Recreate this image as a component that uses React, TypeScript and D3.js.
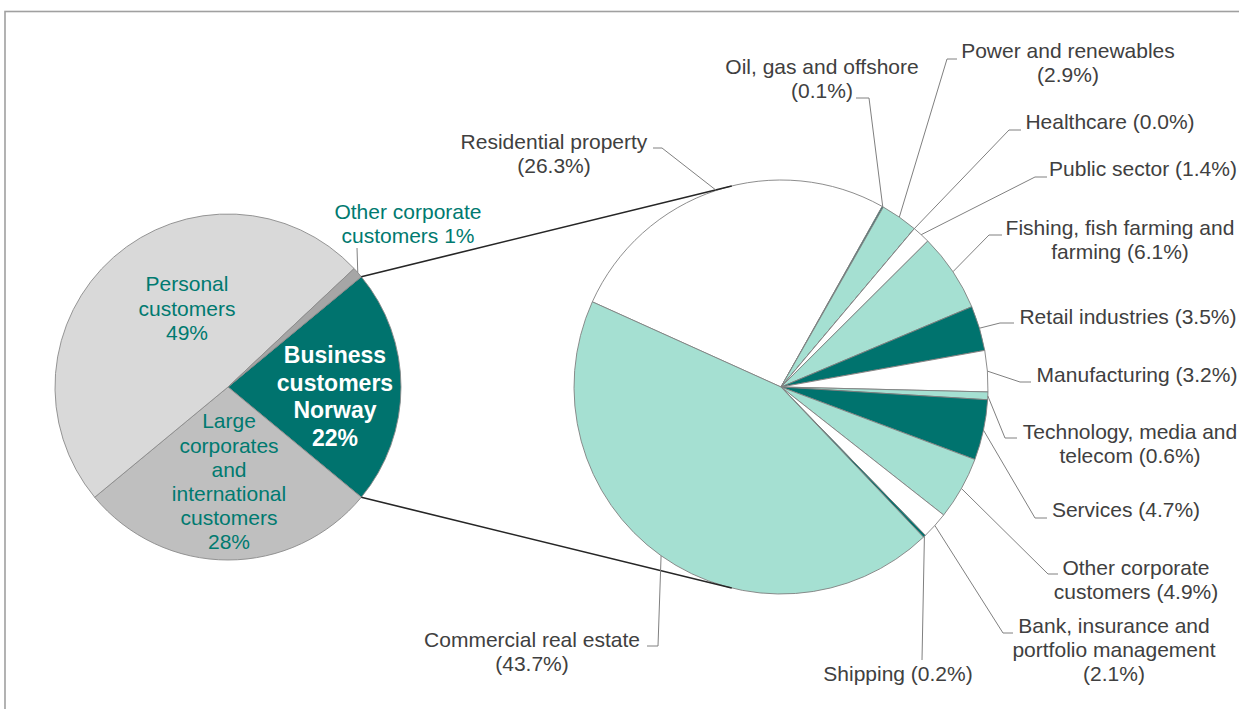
import React from "react";
import * as d3 from "d3";

// ---------- data ----------
const mainCategories = [
  "Business customers Norway",
  "Large corporates and international customers",
  "Personal customers",
  "Other corporate customers",
];
const mainValues = [22, 28, 49, 1];
const mainColors = ["#00736e", "#bfbfbf", "#d9d9d9", "#a6a6a6"];

const sectorCategories = [
  "Residential property",
  "Oil, gas and offshore",
  "Power and renewables",
  "Healthcare",
  "Public sector",
  "Fishing, fish farming and farming",
  "Retail industries",
  "Manufacturing",
  "Technology, media and telecom",
  "Services",
  "Other corporate customers",
  "Bank, insurance and portfolio management",
  "Shipping",
  "Commercial real estate",
];
const sectorValues = [26.3, 0.1, 2.9, 0.0, 1.4, 6.1, 3.5, 3.2, 0.6, 4.7, 4.9, 2.1, 0.2, 43.7];
const sectorColors = [
  "#ffffff", "#00736e", "#a5e0d2", "#ffffff", "#ffffff", "#a5e0d2", "#00736e",
  "#ffffff", "#a5e0d2", "#00736e", "#a5e0d2", "#ffffff", "#00736e", "#a5e0d2",
];

// ---------- layout ----------
const W = 1239;
const H = 709;
const MAIN = { cx: 228, cy: 387, r: 173 };
const SUB = { cx: 781, cy: 387, r: 207, startDeg: -65.7 };
const FONT = "'Liberation Sans', Arial, Helvetica, sans-serif";
const TEAL_TEXT = "#007a70";
const GREY_TEXT = "#404040";

type MainLbl = {
  lines: string[]; x: number; y: number; lh: number; size: number; bold?: boolean; color: string; leaderTo?: [number, number];
};
const mainLabelLayout: MainLbl[] = [
  { lines: ["Business", "customers", "Norway", "{v}%"], x: 335, y: 355, lh: 27.7, size: 23, bold: true, color: "#ffffff" },
  { lines: ["Large", "corporates", "and", "international", "customers", "{v}%"], x: 229, y: 421, lh: 24.2, size: 21, color: TEAL_TEXT },
  { lines: ["Personal", "customers", "{v}%"], x: 187, y: 284, lh: 24.5, size: 21, color: TEAL_TEXT },
  { lines: ["Other corporate", "customers {v}%"], x: 408, y: 212, lh: 24, size: 21, color: TEAL_TEXT, leaderTo: [357, 248] },
];

type SubLbl = { lines: string[]; x: number; y: number; elbow: [number, number]; end: [number, number] };
const subLabelLayout: SubLbl[] = [
  { lines: ["Residential property", "({v}%)"], x: 554, y: 142, elbow: [662, 148], end: [653, 148] },
  { lines: ["Oil, gas and offshore", "({v}%)"], x: 822, y: 67, elbow: [869, 98], end: [856, 98] },
  { lines: ["Power and renewables", "({v}%)"], x: 1068, y: 51, elbow: [947, 59], end: [957, 59] },
  { lines: ["Healthcare ({v}%)"], x: 1110, y: 122, elbow: [1009, 130], end: [1021, 130] },
  { lines: ["Public sector ({v}%)"], x: 1143, y: 169, elbow: [1035, 177], end: [1047, 177] },
  { lines: ["Fishing, fish farming and", "farming ({v}%)"], x: 1120, y: 228, elbow: [989, 235], end: [1002, 235] },
  { lines: ["Retail industries ({v}%)"], x: 1128, y: 317, elbow: [1000, 323], end: [1014, 323] },
  { lines: ["Manufacturing ({v}%)"], x: 1137, y: 375, elbow: [1020, 382], end: [1031, 382] },
  { lines: ["Technology, media and", "telecom ({v}%)"], x: 1130, y: 432, elbow: [1005, 438], end: [1017, 438] },
  { lines: ["Services ({v}%)"], x: 1126, y: 510, elbow: [1035, 518], end: [1047, 518] },
  { lines: ["Other corporate", "customers ({v}%)"], x: 1136, y: 568, elbow: [1048, 574], end: [1058, 574] },
  { lines: ["Bank, insurance and", "portfolio management", "({v}%)"], x: 1114, y: 626, elbow: [1003, 633], end: [1013, 633] },
  { lines: ["Shipping ({v}%)"], x: 898, y: 674, elbow: [922, 660], end: [922, 660] },
  { lines: ["Commercial real estate", "({v}%)"], x: 532, y: 640, elbow: [658, 646], end: [647, 646] },
];

// ---------- helpers ----------
const polar = (cx: number, cy: number, r: number, a: number): [number, number] => [
  cx + r * Math.sin(a),
  cy - r * Math.cos(a),
];

function tangent(p: [number, number], c: { cx: number; cy: number; r: number }, upper: boolean): [number, number] {
  const dx = p[0] - c.cx;
  const dy = p[1] - c.cy;
  const d = Math.hypot(dx, dy);
  const theta = Math.atan2(dy, dx);
  const alpha = Math.acos(c.r / d);
  const t = upper ? theta + alpha : theta - alpha;
  return [c.cx + c.r * Math.cos(t), c.cy + c.r * Math.sin(t)];
}

export default function App() {
  // main pie
  const mainStart = Math.PI / 2 - (Math.PI * mainValues[0]) / d3.sum(mainValues);
  const mainPie = d3
    .pie<number>()
    .sort(null)
    .value((d) => d)
    .startAngle(mainStart)
    .endAngle(mainStart + 2 * Math.PI);
  const mainArcs = mainPie(mainValues);
  const mainArc = d3.arc<d3.PieArcDatum<number>>().innerRadius(0).outerRadius(MAIN.r);

  // sub pie
  const subStart = (SUB.startDeg * Math.PI) / 180;
  const subPie = d3
    .pie<number>()
    .sort(null)
    .value((d) => d)
    .startAngle(subStart)
    .endAngle(subStart + 2 * Math.PI);
  const subArcs = subPie(sectorValues);
  const subArc = d3.arc<d3.PieArcDatum<number>>().innerRadius(0).outerRadius(SUB.r);

  // series lines from business slice edges to tangent points of sub pie
  const b = mainArcs[0];
  const pTop = polar(MAIN.cx, MAIN.cy, MAIN.r, b.startAngle);
  const pBot = polar(MAIN.cx, MAIN.cy, MAIN.r, b.endAngle);
  const tTop = tangent(pTop, SUB, true);
  const tBot = tangent(pBot, SUB, false);

  const fmt = (v: number) => v.toFixed(1);
  const line = d3.line();

  return (
    <svg
      width={W}
      height={H}
      style={{ position: "absolute", left: 0, top: 0, background: "#ffffff" }}
      fontFamily={FONT}
    >
      <rect x={5} y={11.5} width={1400} height={900} fill="#ffffff" stroke="#a0a0a0" strokeWidth={1.6} />

      {/* main pie */}
      <g transform={`translate(${MAIN.cx},${MAIN.cy})`}>
        {mainArcs.map((a, i) => (
          <path key={mainCategories[i]} d={mainArc(a) || ""} fill={mainColors[i]} stroke="#8a8a8a" strokeWidth={0.9} />
        ))}
      </g>

      {/* sub pie */}
      <g transform={`translate(${SUB.cx},${SUB.cy})`}>
        {subArcs.map((a, i) => (
          <path key={sectorCategories[i]} d={subArc(a) || ""} fill={sectorColors[i]} stroke="#808080" strokeWidth={0.9} />
        ))}
      </g>

      {/* series lines */}
      <path d={line([pTop, tTop]) || ""} stroke="#262626" strokeWidth={1.6} fill="none" />
      <path d={line([pBot, tBot]) || ""} stroke="#262626" strokeWidth={1.6} fill="none" />

      {/* main labels */}
      {mainLabelLayout.map((l, i) => {
        const a = mainArcs[i];
        const mid = (a.startAngle + a.endAngle) / 2;
        const anchor = polar(MAIN.cx, MAIN.cy, MAIN.r, mid);
        return (
          <g key={"ml" + i}>
            {l.leaderTo && (
              <path d={line([anchor, l.leaderTo]) || ""} stroke="#808080" strokeWidth={1} fill="none" />
            )}
            <text
              textAnchor="middle"
              fontSize={l.size}
              fontWeight={l.bold ? "bold" : "normal"}
              fill={l.color}
            >
              {l.lines.map((s, j) => (
                <tspan key={j} x={l.x} y={l.y + j * l.lh} dy="0.35em">
                  {s.replace("{v}", String(mainValues[i]))}
                </tspan>
              ))}
            </text>
          </g>
        );
      })}

      {/* sub labels */}
      {subLabelLayout.map((l, i) => {
        const a = subArcs[i];
        const mid = (a.startAngle + a.endAngle) / 2;
        const anchor = polar(SUB.cx, SUB.cy, SUB.r, mid);
        return (
          <g key={"sl" + i}>
            <path d={line([anchor, l.elbow, l.end]) || ""} stroke="#808080" strokeWidth={1} fill="none" />
            <text textAnchor="middle" fontSize={21} fill={GREY_TEXT}>
              {l.lines.map((s, j) => (
                <tspan key={j} x={l.x} y={l.y + j * 24} dy="0.35em">
                  {s.replace("{v}", fmt(sectorValues[i]))}
                </tspan>
              ))}
            </text>
          </g>
        );
      })}
    </svg>
  );
}
